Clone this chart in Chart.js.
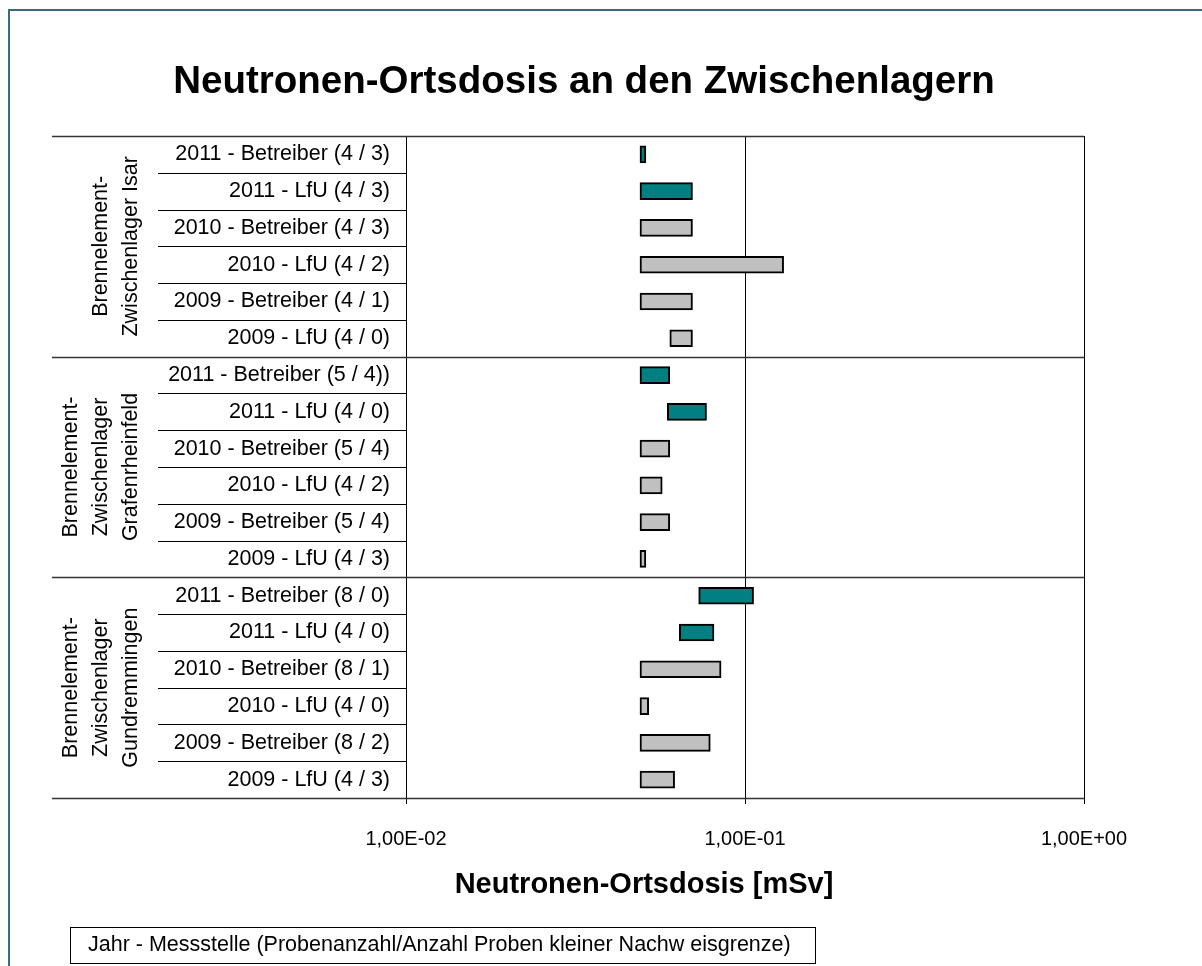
<!DOCTYPE html>
<html><head><meta charset="utf-8">
<script src="https://cdn.jsdelivr.net/npm/chart.js@4/dist/chart.umd.min.js"></script>
<style>html,body{margin:0;padding:0;background:#fff}#wrap{position:relative;width:1202px;height:966px}</style>
</head><body><div id="wrap"><canvas id="c" width="1202" height="966"></canvas></div>
<script>
// ---- data ----
const categories = [
  "2011 - Betreiber (4 / 3)", "2011 - LfU (4 / 3)", "2010 - Betreiber (4 / 3)",
  "2010 - LfU (4 / 2)", "2009 - Betreiber (4 / 1)", "2009 - LfU (4 / 0)",
  "2011 - Betreiber (5 / 4))", "2011 - LfU (4 / 0)", "2010 - Betreiber (5 / 4)",
  "2010 - LfU (4 / 2)", "2009 - Betreiber (5 / 4)", "2009 - LfU (4 / 3)",
  "2011 - Betreiber (8 / 0)", "2011 - LfU (4 / 0)", "2010 - Betreiber (8 / 1)",
  "2010 - LfU (4 / 0)", "2009 - Betreiber (8 / 2)", "2009 - LfU (4 / 3)"
];
const years = [2011,2011,2010,2010,2009,2009, 2011,2011,2010,2010,2009,2009, 2011,2011,2010,2010,2009,2009];
const groupOfRow = [0,0,0,0,0,0, 1,1,1,1,1,1, 2,2,2,2,2,2];
const groupLabels = [
  ["Brennelement-", "Zwischenlager Isar"],
  ["Brennelement-", "Zwischenlager", "Grafenrheinfeld"],
  ["Brennelement-", "Zwischenlager", "Gundremmingen"]
];
const lowValues  = [0.049, 0.049, 0.049, 0.049, 0.049, 0.060,
                    0.049, 0.059, 0.049, 0.049, 0.049, 0.049,
                    0.073, 0.064, 0.049, 0.049, 0.049, 0.049];
const highValues = [0.051, 0.070, 0.070, 0.130, 0.070, 0.070,
                    0.060, 0.077, 0.060, 0.057, 0.060, 0.051,
                    0.106, 0.081, 0.085, 0.052, 0.079, 0.062];
const tickValues = [0.01, 0.1, 1];
const tickLabels = ["1,00E-02", "1,00E-01", "1,00E+00"];
const chartTitle = "Neutronen-Ortsdosis an den Zwischenlagern";
const axisTitle = "Neutronen-Ortsdosis [mSv]";
const legendText = "Jahr - Messstelle (Probenanzahl/Anzahl Proben kleiner Nachw eisgrenze)";
const colorByYear = {2011: "#008080", 2010: "#c0c0c0", 2009: "#c0c0c0"};

const FONT = "'Liberation Sans', Arial, sans-serif";

const decor = {
  id: 'decor',
  beforeDraw(chart) {
    const ctx = chart.ctx;
    ctx.save();
    ctx.fillStyle = '#fff';
    ctx.fillRect(0, 0, chart.width, chart.height);
    ctx.restore();
  },
  afterDraw(chart) {
    const ctx = chart.ctx;
    const ca = chart.chartArea;
    const ys = chart.scales.y;
    ctx.save();
    const n = categories.length;
    const line = (x1, y, x2) => { ctx.beginPath(); ctx.moveTo(x1, Math.round(y)+0.5); ctx.lineTo(x2, Math.round(y)+0.5); ctx.stroke(); };
    for (let i = 1; i < n; i++) {
      const y = (ys.getPixelForValue(i - 1) + ys.getPixelForValue(i)) / 2;
      if (groupOfRow[i] !== groupOfRow[i - 1]) {
        ctx.strokeStyle = '#333'; ctx.lineWidth = 1.5;
        line(52, y, ca.right);
      } else {
        ctx.strokeStyle = '#000'; ctx.lineWidth = 1;
        line(158, y, ca.left);
      }
    }
    ctx.strokeStyle = '#333'; ctx.lineWidth = 1.5;
    line(52, ca.top, ca.right);
    line(52, ca.bottom, ca.right);

    // group labels (rotated)
    ctx.fillStyle = '#000';
    ctx.font = "21.5px " + FONT;
    ctx.textAlign = 'center';
    ctx.textBaseline = 'middle';
    groupLabels.forEach((lines, g) => {
      const idx = groupOfRow.map((v, i) => v === g ? i : -1).filter(i => i >= 0);
      const yc = (ys.getPixelForValue(idx[0]) + ys.getPixelForValue(idx[idx.length - 1])) / 2;
      const lastX = 131, lh = 30;
      lines.forEach((t, k) => {
        const x = lastX - (lines.length - 1 - k) * lh;
        ctx.save();
        ctx.translate(x, yc);
        ctx.rotate(-Math.PI / 2);
        ctx.fillText(t, 0, 0);
        ctx.restore();
      });
    });

    // main title
    ctx.font = "bold 38.5px " + FONT;
    ctx.fillText(chartTitle, 584, 82);
    // axis title
    ctx.font = "bold 29px " + FONT;
    ctx.fillText(axisTitle, 644, 885);
    // legend box
    ctx.strokeStyle = '#000'; ctx.lineWidth = 1;
    ctx.strokeRect(70.5, 927.5, 745, 36);
    ctx.font = "21.5px " + FONT;
    ctx.textAlign = 'left';
    ctx.fillText(legendText, 88, 945);

    // outer frame (top + left)
    ctx.strokeStyle = '#3d6a80'; ctx.lineWidth = 2;
    ctx.beginPath();
    ctx.moveTo(9, chart.height); ctx.lineTo(9, 10); ctx.lineTo(chart.width, 10);
    ctx.stroke();
    ctx.restore();
  }
};

new Chart(document.getElementById('c'), {
  type: 'bar',
  data: {
    labels: categories,
    datasets: [{
      data: lowValues.map((l, i) => [l, highValues[i]]),
      backgroundColor: years.map(y => colorByYear[y]),
      borderColor: '#000',
      borderWidth: 2,
      borderSkipped: false,
      barThickness: 17
    }]
  },
  options: {
    indexAxis: 'y',
    responsive: false,
    animation: false,
    layout: { padding: { top: 136, right: 118, left: 0, bottom: 0 } },
    plugins: { legend: { display: false }, tooltip: { enabled: false }, title: { display: false } },
    scales: {
      x: {
        type: 'logarithmic',
        min: 0.01, max: 1,
        afterBuildTicks(scale) { scale.ticks = tickValues.map(v => ({ value: v })); },
        afterFit(scale) { scale.height = 168; },
        ticks: {
          autoSkip: false, maxRotation: 0,
          callback: (v, i) => tickLabels[i],
          color: '#000', font: { family: FONT, size: 20 }, padding: 23
        },
        grid: { color: '#000', lineWidth: 1, tickLength: 6, drawOnChartArea: true },
        border: { display: true, color: '#000', width: 1 }
      },
      y: {
        type: 'category',
        offset: true,
        afterFit(scale) { scale.width = 406; },
        ticks: { color: '#000', font: { family: FONT, size: 21.5 }, padding: 16, autoSkip: false },
        grid: { display: true, drawOnChartArea: false, drawTicks: false },
        border: { display: true, color: '#000', width: 1 }
      }
    }
  },
  plugins: [decor]
});
</script>
</body></html>
